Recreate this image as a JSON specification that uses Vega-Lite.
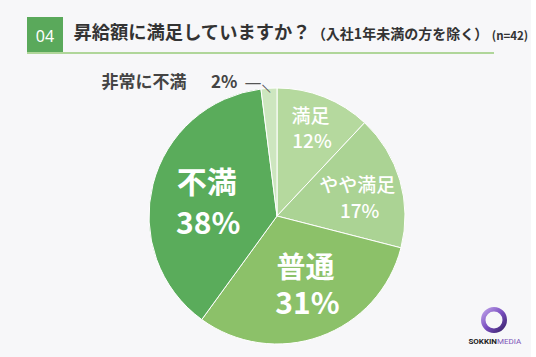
{
  "$schema": "https://vega.github.io/schema/vega-lite/v6.json",
  "background": "#f7f7f9",
  "padding": {"left": 27, "top": 17, "right": 0, "bottom": 0},
  "spacing": 19,
  "config": {"view": {"stroke": null}, "concat": {"spacing": 0}, "text": {"font": "Noto Sans CJK JP"}},
  "datasets": {
    "pie": [
      {"category": "満足", "value": 12, "pct": "12%", "no": 1},
      {"category": "やや満足", "value": 17, "pct": "17%", "no": 2},
      {"category": "普通", "value": 31, "pct": "31%", "no": 3},
      {"category": "不満", "value": 38, "pct": "38%", "no": 4},
      {"category": "非常に不満", "value": 2, "pct": "2%", "no": 5}
    ],
    "one": [{"v": 1}]
  },
  "vconcat": [
    {
      "spacing": 0,
      "vconcat": [
        {
          "spacing": 0,
          "hconcat": [
            {"data": {"name": "one"}, "width": 36, "height": 35, "view": {"fill": "#5aa95b", "stroke": null},
             "mark": {"type": "text", "font": "Noto Sans", "fontSize": 16, "color": "#ffffff", "dy": 2},
             "encoding": {"text": {"value": "04"}}},
            {"data": {"name": "one"}, "width": 10, "height": 35, "mark": {"type": "text", "fontSize": 0}, "encoding": {"text": {"value": ""}}},
            {"data": {"name": "one"}, "width": 238, "height": 35,
             "mark": {"type": "text", "fontSize": 18.3, "fontWeight": "bold", "color": "#333333", "dy": -1},
             "encoding": {"text": {"value": "昇給額に満足していますか？"}}},
            {"data": {"name": "one"}, "width": 178, "height": 35,
             "mark": {"type": "text", "fontSize": 14, "fontWeight": "bold", "color": "#333333", "dy": 0},
             "encoding": {"text": {"value": "（入社1年未満の方を除く）"}}},
            {"data": {"name": "one"}, "width": 42, "height": 35,
             "mark": {"type": "text", "fontSize": 11.5, "fontWeight": "bold", "color": "#333333", "dy": 2},
             "encoding": {"text": {"value": "(n=42)"}}}
          ]
        },
        {"data": {"name": "one"}, "width": 467, "height": 2, "view": {"fill": "#b0d69a", "stroke": null},
         "mark": {"type": "text", "fontSize": 0}, "encoding": {"text": {"value": ""}}}
      ]
    },
    {
      "spacing": 0,
      "hconcat": [
        {"data": {"name": "one"}, "width": 70, "height": 284, "mark": {"type": "text", "fontSize": 0}, "encoding": {"text": {"value": ""}}},
        {
          "data": {"name": "pie"},
          "width": 360,
          "height": 284,
          "encoding": {
            "theta": {"field": "value", "type": "quantitative", "stack": true},
            "order": {"field": "no", "type": "quantitative"},
            "color": {"field": "category", "type": "nominal", "legend": null,
              "scale": {"domain": ["満足", "やや満足", "普通", "不満", "非常に不満"],
                        "range": ["#b5d99e", "#abd394", "#8cc169", "#5aac5b", "#cde6bf"]}}
          },
          "layer": [
            {"mark": {"type": "arc", "outerRadius": 128, "stroke": "#ffffff", "strokeWidth": 1}},
            {"mark": {"type": "text", "radius": 95, "dx": -1.5, "dy": -11, "fontSize": 19, "fontWeight": 500},
             "encoding": {"color": {"value": "#ffffff"}, "text": {"condition": {"test": "datum.category === '満足'", "field": "category"}, "value": ""}}},
            {"mark": {"type": "text", "radius": 95, "dx": 0, "dy": 14, "fontSize": 19, "fontWeight": 500},
             "encoding": {"color": {"value": "#ffffff"}, "text": {"condition": {"test": "datum.category === '満足'", "field": "pct"}, "value": ""}}},
            {"mark": {"type": "text", "radius": 84, "dx": -0.5, "dy": -7, "fontSize": 19, "fontWeight": 500},
             "encoding": {"color": {"value": "#ffffff"}, "text": {"condition": {"test": "datum.category === 'やや満足'", "field": "category"}, "value": ""}}},
            {"mark": {"type": "text", "radius": 84, "dx": 2, "dy": 19, "fontSize": 19, "fontWeight": 500},
             "encoding": {"color": {"value": "#ffffff"}, "text": {"condition": {"test": "datum.category === 'やや満足'", "field": "pct"}, "value": ""}}},
            {"mark": {"type": "text", "radius": 75, "dx": 3, "dy": -18, "fontSize": 29, "fontWeight": "bold"},
             "encoding": {"color": {"value": "#ffffff"}, "text": {"condition": {"test": "datum.category === '普通'", "field": "category"}, "value": ""}}},
            {"mark": {"type": "text", "radius": 75, "dx": 5, "dy": 18, "fontSize": 30, "fontWeight": "bold"},
             "encoding": {"color": {"value": "#ffffff"}, "text": {"condition": {"test": "datum.category === '普通'", "field": "pct"}, "value": ""}}},
            {"mark": {"type": "text", "radius": 72, "dx": -0.5, "dy": -14, "fontSize": 30, "fontWeight": "bold"},
             "encoding": {"color": {"value": "#ffffff"}, "text": {"condition": {"test": "datum.category === '不満'", "field": "category"}, "value": ""}}},
            {"mark": {"type": "text", "radius": 72, "dx": 1, "dy": 27, "fontSize": 30, "fontWeight": "bold"},
             "encoding": {"color": {"value": "#ffffff"}, "text": {"condition": {"test": "datum.category === '不満'", "field": "pct"}, "value": ""}}},
            {
              "transform": [
                {"stack": "value", "groupby": [], "sort": [{"field": "no", "order": "ascending"}], "as": ["v0", "v1"]},
                {"filter": "datum.category === '非常に不満'"}
              ],
              "encoding": {"theta": {"field": "v1", "type": "quantitative", "stack": null}},
              "layer": [
                {"mark": {"type": "text", "radius": 134, "align": "right", "dx": -90.5, "dy": 1.3, "fontSize": 17, "fontWeight": "bold"},
                 "encoding": {"color": {"value": "#444444"}, "text": {"field": "category"}}},
                {"mark": {"type": "text", "radius": 134, "align": "right", "dx": -39.5, "dy": 1.3, "fontSize": 17, "fontWeight": "bold"},
                 "encoding": {"color": {"value": "#444444"}, "text": {"field": "pct"}}},
                {"mark": {"type": "text", "radius": 134, "dx": -24, "dy": 0.5, "fontSize": 17, "font": "DejaVu Sans"},
                 "encoding": {"color": {"value": "#555555"}, "text": {"value": "—"}}},
                {"mark": {"type": "text", "radius": 134, "dx": -2.8, "dy": 11.5, "fontSize": 12, "font": "DejaVu Sans", "angle": 45},
                 "encoding": {"color": {"value": "#555555"}, "text": {"value": "—"}}}
              ]
            }
          ]
        },
        {
          "spacing": 0,
          "vconcat": [
            {"data": {"name": "one"}, "width": 74, "height": 233, "mark": {"type": "text", "fontSize": 0}, "encoding": {"text": {"value": ""}}},
            {"data": {"name": "one"}, "width": 74, "height": 26,
             "mark": {"type": "arc", "innerRadius": 8.5, "outerRadius": 13,
                      "color": {"gradient": "linear", "x1": 0, "y1": 0, "x2": 1, "y2": 1,
                                "stops": [{"offset": 0, "color": "#c9aef0"}, {"offset": 0.5, "color": "#7a4fc0"}, {"offset": 1, "color": "#2e1a5c"}]}},
             "encoding": {"theta": {"field": "v", "type": "quantitative"}}},
            {"data": {"name": "one"}, "width": 74, "height": 18,
             "layer": [
               {"mark": {"type": "text", "font": "Roboto", "fontSize": 8, "fontWeight": "bold", "color": "#222222", "align": "right", "dx": 3},
                "encoding": {"text": {"value": "SOKKIN"}}},
               {"mark": {"type": "text", "font": "Roboto", "fontSize": 8, "color": "#7d55b8", "align": "left", "dx": 3},
                "encoding": {"text": {"value": "MEDIA"}}}
             ]}
          ]
        }
      ]
    }
  ]
}
